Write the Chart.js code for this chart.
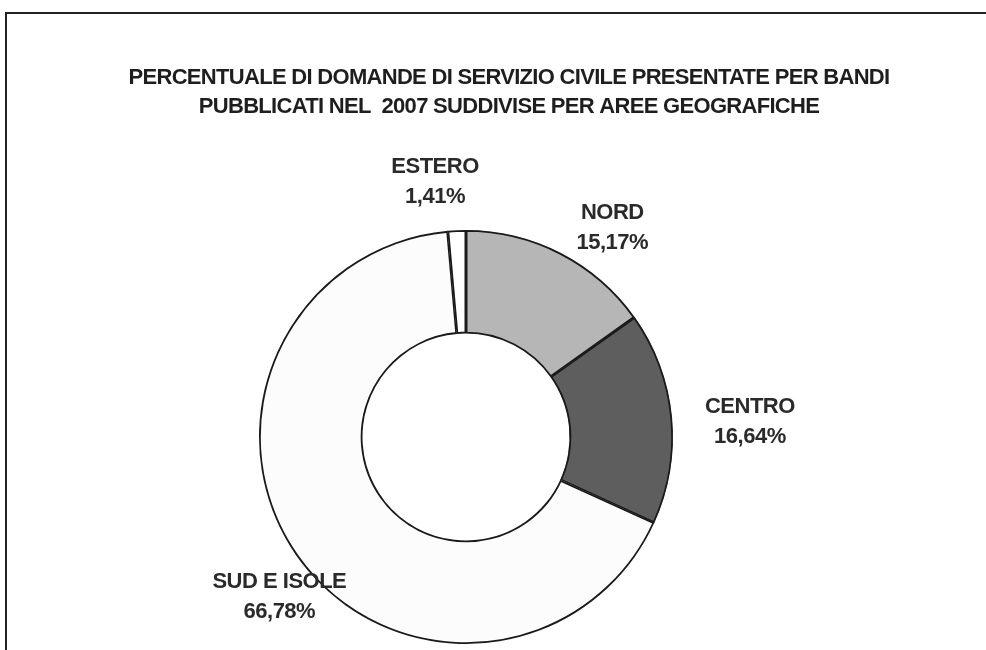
<!DOCTYPE html>
<html>
<head>
<meta charset="utf-8">
<script src="https://cdn.jsdelivr.net/npm/chart.js@4.4.1/dist/chart.umd.min.js"></script>
<style>
  html, body { margin: 0; padding: 0; background: #fff; }
  #wrap { position: relative; width: 986px; height: 650px; }
  #frame {
    position: absolute; left: 5px; top: 12px; right: 0; bottom: 0;
    border-top: 2px solid #222; border-left: 2px solid #222;
  }
  canvas { position: absolute; left: 0; top: 0; }
</style>
</head>
<body>
<div id="wrap">
  <div id="frame"></div>
  <canvas id="chart" width="986" height="650"></canvas>
</div>
<script>
const titleLines = [
  'PERCENTUALE DI DOMANDE DI SERVIZIO CIVILE PRESENTATE PER BANDI',
  'PUBBLICATI NEL  2007 SUDDIVISE PER AREE GEOGRAFICHE'
];
const areas = ['NORD', 'CENTRO', 'SUD E ISOLE', 'ESTERO'];
const shares = [15.17, 16.64, 66.78, 1.41];
const sliceColors = ['#b6b6b6', '#5e5e5e', '#fcfcfc', '#ffffff'];

// nudges for the outside labels, relative to the slice's mid-angle point
const labelNudge = [[33, 10], [38, 8], [15, 17], [-20, -8]];

const formatPct = v => v.toFixed(2).replace('.', ',') + '%';

const titlePlugin = {
  id: 'twoLineTitle',
  afterDraw(chart) {
    const ctx = chart.ctx;
    ctx.save();
    ctx.fillStyle = '#1e1e1e';
    ctx.font = 'bold 22px "Liberation Sans", Arial, sans-serif';
    ctx.letterSpacing = '-0.7px';
    ctx.textAlign = 'center';
    ctx.textBaseline = 'middle';
    titleLines.forEach((line, i) => ctx.fillText(line, 509, 78 + i * 29));
    ctx.restore();
  }
};

const sliceLabels = {
  id: 'sliceLabels',
  afterDatasetsDraw(chart) {
    const ctx = chart.ctx;
    const meta = chart.getDatasetMeta(0);
    ctx.save();
    ctx.fillStyle = '#2a2a2a';
    ctx.font = 'bold 22px "Liberation Sans", Arial, sans-serif';
    ctx.letterSpacing = '-0.5px';
    ctx.textAlign = 'center';
    ctx.textBaseline = 'middle';
    meta.data.forEach((arc, i) => {
      const mid = (arc.startAngle + arc.endAngle) / 2;
      const r = arc.outerRadius + 40;
      const x = arc.x + Math.cos(mid) * r + labelNudge[i][0];
      const y = arc.y + Math.sin(mid) * r + labelNudge[i][1];
      ctx.fillText(areas[i], x, y - 15);
      ctx.fillText(formatPct(shares[i]), x, y + 15);
    });
    ctx.restore();
  }
};

new Chart(document.getElementById('chart'), {
  type: 'doughnut',
  data: {
    labels: areas,
    datasets: [{
      data: shares,
      backgroundColor: sliceColors,
      borderColor: '#1a1a1a',
      borderWidth: 1.5,
      borderAlign: 'inner'
    }]
  },
  options: {
    responsive: false,
    animation: false,
    cutout: '50%',
    layout: { padding: { left: 259, right: 313, top: 230, bottom: 6 } },
    plugins: {
      legend: { display: false },
      title: { display: false },
      tooltip: { enabled: false }
    }
  },
  plugins: [titlePlugin, sliceLabels]
});
</script>
</body>
</html>
